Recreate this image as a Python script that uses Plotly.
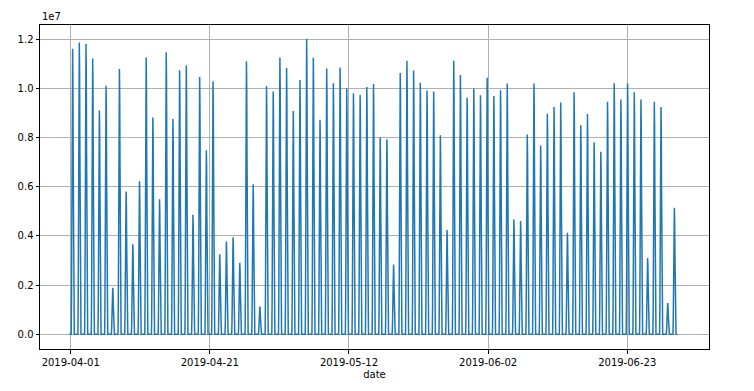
import pandas as pd
import plotly.graph_objects as go

# Daily peak values (units of 1e6), 2019-04-01 .. 2019-06-30
start_date = "2019-04-01"
daily_peak_1e6 = [
    11.60, 11.86, 11.81, 11.21, 9.09, 10.10, 1.89, 10.78, 5.80, 3.66,
    6.22, 11.25, 8.81, 5.49, 11.46, 8.75, 10.73, 10.92, 4.86, 10.46,
    7.48, 10.28, 3.25, 3.77, 3.94, 2.90, 11.10, 6.10, 1.13, 10.09,
    9.87, 11.25, 10.82, 9.07, 10.33, 12.01, 11.24, 8.72, 10.80, 10.20,
    10.84, 10.00, 9.80, 9.72, 10.05, 10.17, 7.99, 7.93, 2.83, 10.62,
    11.12, 10.72, 10.22, 9.91, 9.87, 8.09, 4.24, 11.12, 10.54, 9.61,
    9.99, 9.71, 10.43, 9.68, 9.92, 10.19, 4.66, 4.60, 8.12, 10.19,
    7.67, 8.96, 9.24, 9.42, 4.12, 9.84, 8.50, 8.95, 7.80, 7.42,
    9.45, 10.20, 9.54, 10.19, 9.84, 9.54, 3.10, 9.45, 9.24, 1.27,
    5.14,
]
# Typical hourly shape of a day (fraction of the daily peak), hours 0..23
hourly_profile = [0, 0, 0, 0, 0, 0, 0, 0, 0.12, 0.42, 0.78, 0.96,
                  1.0, 0.9, 0.64, 0.33, 0.08, 0, 0, 0, 0, 0, 0, 0]

ytick_vals = [0, 2e6, 4e6, 6e6, 8e6, 10e6, 12e6]
ytick_text = ["0.0", "0.2", "0.4", "0.6", "0.8", "1.0", "1.2"]
xtick_text = ["2019-04-01", "2019-04-21", "2019-05-12", "2019-06-02", "2019-06-23"]

n_days = len(daily_peak_1e6)
times = pd.date_range(start_date, periods=n_days * 24, freq="h")
values = []
for p in daily_peak_1e6:
    for f in hourly_profile:
        values.append(p * 1e6 * f)

fig = go.Figure()
fig.add_trace(go.Scatter(x=times, y=values, mode="lines",
                         line=dict(color="#1f77b4", width=1.5),
                         showlegend=False))

t0 = pd.Timestamp(start_date)
xr = [t0 - pd.Timedelta(days=4.38), t0 + pd.Timedelta(days=95.68)]
tickvals = [t0 + pd.Timedelta(days=0.21 + 20.81 * k) for k in range(5)]

font = dict(family="DejaVu Sans", size=10, color="black")
fig.update_layout(
    width=754, height=391,
    margin=dict(l=40, r=45, t=25, b=40),
    paper_bgcolor="white", plot_bgcolor="white",
    font=font,
    xaxis=dict(range=xr, tickvals=tickvals, ticktext=xtick_text,
               showgrid=True, gridcolor="#b0b0b0", gridwidth=0.8,
               showline=True, linecolor="black", linewidth=1, mirror=True,
               ticks="outside", ticklen=3.5, tickcolor="black",
               zeroline=False,
               title=dict(text="date", font=font, standoff=4)),
    yaxis=dict(range=[-0.6e6, 12.57e6], tickvals=ytick_vals, ticktext=ytick_text,
               showgrid=True, gridcolor="#b0b0b0", gridwidth=0.8,
               showline=True, linecolor="black", linewidth=1, mirror=True,
               ticks="outside", ticklen=3.5, tickcolor="black",
               zeroline=False),
    annotations=[dict(text="1e7", xref="paper", yref="paper", x=0, y=1,
                      xanchor="left", yanchor="bottom", yshift=1,
                      showarrow=False, font=font)],
)
fig.write_html("out.html")
